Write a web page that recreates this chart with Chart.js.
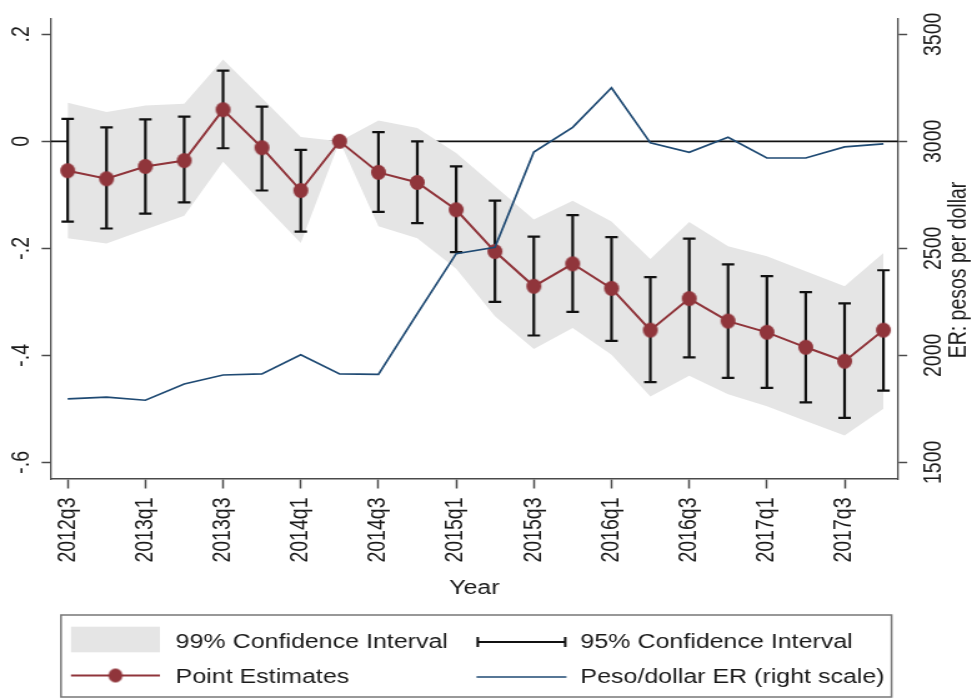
<!DOCTYPE html>
<html>
<head>
<meta charset="utf-8">
<script src="https://cdn.jsdelivr.net/npm/chart.js@4.4.1/dist/chart.umd.min.js"></script>
<style>
  html, body { margin: 0; padding: 0; background: #fff; }
</style>
</head>
<body>
<!-- drawn at 782 wide, shown at 977: the source figure is stretched sideways -->
<canvas id="chart" width="782" height="698" style="display:block;width:977px;height:698px"></canvas>
<script>
const quarters = ['2012q3', '2012q4', '2013q1', '2013q2', '2013q3', '2013q4', '2014q1', '2014q2',
    '2014q3', '2014q4', '2015q1', '2015q2', '2015q3', '2015q4', '2016q1', '2016q2',
    '2016q3', '2016q4', '2017q1', '2017q2', '2017q3', '2017q4'];

const pointEst = [-0.055, -0.070, -0.047, -0.036, 0.059, -0.012, -0.092, 0, -0.058, -0.077, -0.128,
    -0.206, -0.271, -0.229, -0.275, -0.353, -0.294, -0.336, -0.357, -0.385, -0.411, -0.353];

// 95% CI (error bars), base quarter has none
const ci95Upper = [0.042, 0.026, 0.041, 0.046, 0.132, 0.065, -0.016, null, 0.017, 0.000, -0.047,
    -0.111, -0.178, -0.138, -0.179, -0.254, -0.182, -0.230, -0.252, -0.282, -0.303, -0.241];
const ci95Lower = [-0.150, -0.163, -0.135, -0.114, -0.013, -0.092, -0.169, null, -0.132, -0.153, -0.207,
    -0.300, -0.363, -0.319, -0.373, -0.450, -0.404, -0.442, -0.461, -0.488, -0.517, -0.466];

// 99% CI (grey band)
const ci99Upper = [0.072, 0.055, 0.067, 0.070, 0.153, 0.081, 0.008, 0, 0.039, 0.025, -0.022,
    -0.084, -0.146, -0.111, -0.150, -0.220, -0.151, -0.196, -0.215, -0.243, -0.271, -0.209];
const ci99Lower = [-0.181, -0.191, -0.165, -0.139, -0.038, -0.115, -0.190, 0, -0.159, -0.181, -0.238,
    -0.327, -0.388, -0.349, -0.399, -0.477, -0.438, -0.473, -0.495, -0.523, -0.550, -0.500];

// peso/dollar exchange rate, right axis
const exchangeRate = [1796, 1805, 1790, 1866, 1908, 1913, 2003, 1913, 1911, 2195, 2475,
    2505, 2950, 3065, 3250, 2993, 2949, 3019, 2922, 2922, 2974, 2988];

const xTickIndex = [0, 2, 4, 6, 8, 10, 12, 14, 16, 18, 20];
const leftTickValues = [-0.6, -0.4, -0.2, 0, 0.2];
const leftTickLabels = ['-.6', '-.4', '-.2', '0', '.2'];
const rightTickValues = [1500, 2000, 2500, 3000, 3500];

const cranberry = '#90353b';
const navy = '#1f4a73';
const bandGrey = '#e5e5e5';
const axisGrey = '#4a4a4a';
const textColor = '#1a1a1a';
const fontFamily = '"Liberation Sans", Arial, sans-serif';

function xy(arr) {
    return arr.map((v, i) => ({ x: i, y: v }));
}

// ellipse narrower in x so it comes out round after the sideways stretch
function makeDot(rx, ry, color) {
    const c = document.createElement('canvas');
    c.width = Math.ceil(rx * 2) + 2;
    c.height = Math.ceil(ry * 2) + 2;
    const g = c.getContext('2d');
    g.fillStyle = color;
    g.beginPath();
    g.ellipse(c.width / 2, c.height / 2, rx, ry, 0, 0, Math.PI * 2);
    g.fill();
    return c;
}

const zeroLine = {
    id: 'zeroLine',
    beforeDatasetsDraw(chart) {
        const { ctx, chartArea, scales } = chart;
        const py = scales.y.getPixelForValue(0);
        ctx.save();
        ctx.strokeStyle = '#111';
        ctx.lineWidth = 1.8;
        ctx.beginPath();
        ctx.moveTo(chartArea.left, py);
        ctx.lineTo(chartArea.right, py);
        ctx.stroke();
        ctx.restore();
    }
};

const errorBars = {
    id: 'errorBars',
    beforeDatasetDraw(chart, args) {
        if (args.index !== 1) return;
        const { ctx, scales } = chart;
        const capHalf = 5;
        ctx.save();
        ctx.strokeStyle = '#111';
        ctx.lineWidth = 2.2;
        ci95Lower.forEach((lo, i) => {
            const hi = ci95Upper[i];
            if (lo === null || hi === null) return;
            const px = scales.x.getPixelForValue(i);
            const top = scales.y.getPixelForValue(hi);
            const bot = scales.y.getPixelForValue(lo);
            ctx.beginPath();
            ctx.moveTo(px, top); ctx.lineTo(px, bot);
            ctx.moveTo(px - capHalf, top); ctx.lineTo(px + capHalf, top);
            ctx.moveTo(px - capHalf, bot); ctx.lineTo(px + capHalf, bot);
            ctx.stroke();
        });
        ctx.restore();
    }
};

const extras = {
    id: 'extras',
    afterDraw(chart) {
        const ctx = chart.ctx;
        ctx.save();

        // right axis title, reads bottom to top
        ctx.fillStyle = textColor;
        ctx.font = '19.5px ' + fontFamily;
        ctx.textAlign = 'center';
        ctx.textBaseline = 'middle';
        ctx.translate(768, 270);
        ctx.rotate(-Math.PI / 2);
        ctx.fillText('ER: pesos per dollar', 0, 0);
        ctx.setTransform(1, 0, 0, 1, 0, 0);

        // legend
        ctx.strokeStyle = '#777';
        ctx.lineWidth = 1.5;
        ctx.strokeRect(48.8, 615, 664.8, 82);

        ctx.fillStyle = bandGrey;
        ctx.fillRect(56.8, 626.7, 71.2, 25.6);

        ctx.strokeStyle = cranberry;
        ctx.lineWidth = 2;
        ctx.beginPath();
        ctx.moveTo(56.8, 675.5); ctx.lineTo(128, 675.5);
        ctx.stroke();
        ctx.drawImage(legendDot, 92.4 - legendDot.width / 2, 675.5 - legendDot.height / 2);

        ctx.strokeStyle = '#111';
        ctx.lineWidth = 2;
        ctx.beginPath();
        ctx.moveTo(381.4, 642); ctx.lineTo(453.4, 642);
        ctx.moveTo(381.4 + 1, 637); ctx.lineTo(381.4 + 1, 647);
        ctx.moveTo(453.4 - 1, 637); ctx.lineTo(453.4 - 1, 647);
        ctx.stroke();

        ctx.strokeStyle = navy;
        ctx.lineWidth = 1.7;
        ctx.beginPath();
        ctx.moveTo(381.4, 677); ctx.lineTo(453.4, 677);
        ctx.stroke();

        ctx.fillStyle = textColor;
        ctx.font = '20px ' + fontFamily;
        ctx.textAlign = 'left';
        ctx.textBaseline = 'alphabetic';
        ctx.fillText('99% Confidence Interval', 140.6, 647.7);
        ctx.fillText('Point Estimates', 140.6, 682.7);
        ctx.fillText('95% Confidence Interval', 464.6, 647.7);
        ctx.fillText('Peso/dollar ER (right scale)', 464.6, 682.7);

        ctx.restore();
    }
};

const plotDot = makeDot(6, 7.5, cranberry);
const legendDot = makeDot(5.6, 7, cranberry);

const tickFont = { family: fontFamily, size: 19.5 };

new Chart(document.getElementById('chart').getContext('2d'), {
    type: 'line',
    data: {
        datasets: [
            {
                label: 'Peso/dollar ER (right scale)',
                data: xy(exchangeRate),
                yAxisID: 'yER',
                borderColor: navy,
                borderWidth: 1.7,
                pointRadius: 0,
                fill: false,
                tension: 0,
                order: 0
            },
            {
                label: 'Point Estimates',
                data: xy(pointEst),
                yAxisID: 'y',
                borderColor: cranberry,
                backgroundColor: cranberry,
                borderWidth: 2,
                pointStyle: plotDot,
                pointRadius: 7,
                fill: false,
                tension: 0,
                order: 1
            },
            {
                label: '99% upper',
                data: xy(ci99Upper),
                yAxisID: 'y',
                borderColor: 'rgba(0,0,0,0)',
                borderWidth: 0,
                backgroundColor: bandGrey,
                pointRadius: 0,
                fill: '+1',
                tension: 0,
                order: 2
            },
            {
                label: '99% lower',
                data: xy(ci99Lower),
                yAxisID: 'y',
                borderColor: 'rgba(0,0,0,0)',
                borderWidth: 0,
                pointRadius: 0,
                fill: false,
                tension: 0,
                order: 3
            }
        ]
    },
    options: {
        responsive: false,
        devicePixelRatio: 1,
        animation: false,
        layout: { padding: { top: 19, left: 0, right: 0, bottom: 0 } },
        plugins: {
            legend: { display: false },
            tooltip: { enabled: false }
        },
        scales: {
            x: {
                type: 'linear',
                min: -0.43,
                max: 21.37,
                afterBuildTicks: s => { s.ticks = xTickIndex.map(v => ({ value: v })); },
                afterFit: s => { s.height = 219; },
                ticks: {
                    autoSkip: false,
                    minRotation: 90,
                    maxRotation: 90,
                    padding: 9,
                    color: textColor,
                    font: tickFont,
                    callback: v => quarters[v]
                },
                grid: { drawOnChartArea: false, drawTicks: true, tickLength: 9.5, tickWidth: 1.5, tickColor: axisGrey },
                border: { display: true, color: axisGrey, width: 1.6 },
                title: {
                    display: true,
                    text: 'Year',
                    color: textColor,
                    font: { family: fontFamily, size: 20 },
                    padding: { top: 0, bottom: 98 }
                }
            },
            y: {
                type: 'linear',
                position: 'left',
                min: -0.6312,
                max: 0.2286,
                afterBuildTicks: s => { s.ticks = leftTickValues.map(v => ({ value: v })); },
                afterFit: s => { s.width = 40.8; },
                ticks: {
                    minRotation: 90,
                    maxRotation: 90,
                    crossAlign: 'center',
                    padding: 3.9,
                    color: textColor,
                    font: tickFont,
                    callback: (v, i) => leftTickLabels[i]
                },
                grid: { drawOnChartArea: false, drawTicks: true, tickLength: 7.5, tickWidth: 1.5, tickColor: axisGrey },
                border: { display: true, color: axisGrey, width: 1.3 }
            },
            yER: {
                type: 'linear',
                position: 'right',
                min: 1422,
                max: 3571.5,
                afterBuildTicks: s => { s.ticks = rightTickValues.map(v => ({ value: v })); },
                afterFit: s => { s.width = 63.4; },
                ticks: {
                    minRotation: 90,
                    maxRotation: 90,
                    crossAlign: 'center',
                    padding: 0,
                    color: textColor,
                    font: tickFont,
                    callback: v => String(v)
                },
                grid: { drawOnChartArea: false, drawTicks: true, tickLength: 7.5, tickWidth: 1.5, tickColor: axisGrey },
                border: { display: true, color: axisGrey, width: 1.3 }
            }
        }
    },
    plugins: [zeroLine, errorBars, extras]
});
</script>
</body>
</html>
